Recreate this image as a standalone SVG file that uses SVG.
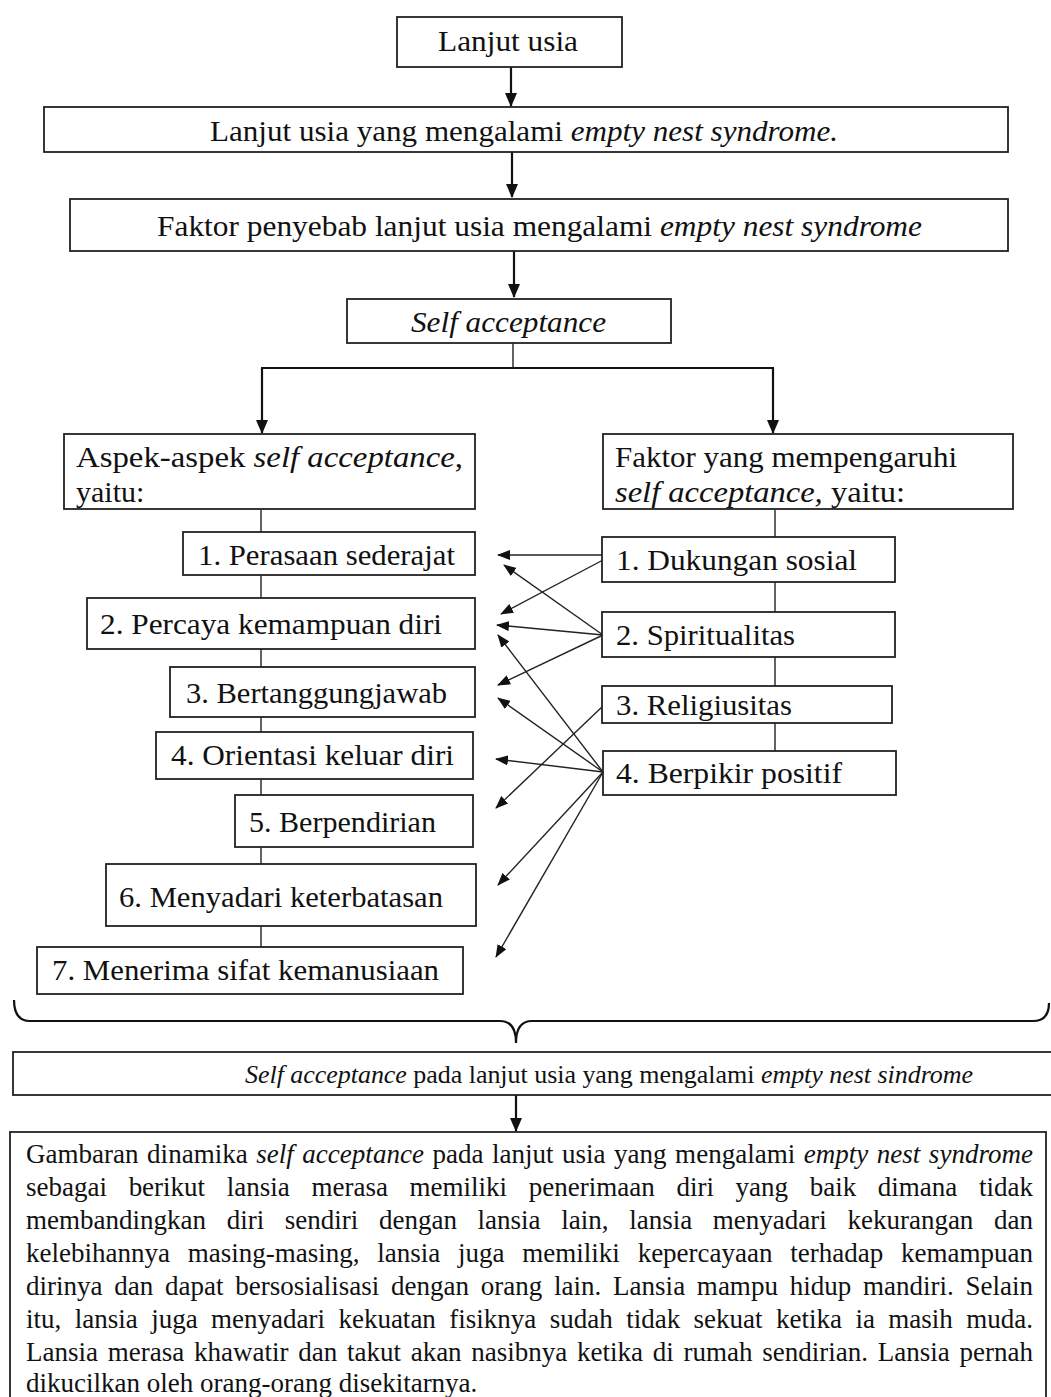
<svg xmlns="http://www.w3.org/2000/svg" width="1051" height="1397" viewBox="0 0 1051 1397">
<style>
  .box { fill: #fff; stroke: #222; stroke-width: 1.8; }
  .t { font-family: "Liberation Serif", "Times New Roman", serif; fill: #111; }
  .h { font-size: 30px; }
  .p { font-size: 27px; }
  .i { font-style: italic; }
  .main { stroke: #111; stroke-width: 2.2; fill: none; }
  .thin { stroke: #222; stroke-width: 1.4; fill: none; }
  .link { stroke: #222; stroke-width: 1.4; fill: none; }
</style>
<defs>
  <marker id="ah" markerUnits="userSpaceOnUse" markerWidth="14" markerHeight="12" refX="13" refY="6" orient="auto">
    <path d="M0,0 L14,6 L0,12 Z" fill="#111"/>
  </marker>
  <marker id="as" markerUnits="userSpaceOnUse" markerWidth="13" markerHeight="10" refX="12" refY="5" orient="auto">
    <path d="M0,0 L13,5 L0,10 Z" fill="#111"/>
  </marker>
</defs>

<g id="connectors">
  <line class="main" x1="511" y1="67" x2="511" y2="106" marker-end="url(#ah)"/>
  <line class="main" x1="512" y1="152" x2="512" y2="197" marker-end="url(#ah)"/>
  <line class="main" x1="514" y1="251" x2="514" y2="297" marker-end="url(#ah)"/>
  <line class="thin" x1="513" y1="343" x2="513" y2="368"/>
  <line class="main" x1="261" y1="368" x2="774" y2="368" stroke-width="2.8"/>
  <line class="main" x1="262" y1="368" x2="262" y2="433" marker-end="url(#ah)"/>
  <line class="main" x1="773" y1="368" x2="773" y2="433" marker-end="url(#ah)"/>
  <line class="thin" x1="261" y1="510" x2="261" y2="947" stroke-width="2"/>
  <line class="thin" x1="775" y1="510" x2="775" y2="751" stroke-width="2"/>
  <line class="link" x1="603" y1="555" x2="498" y2="555" marker-end="url(#as)"/>
  <line class="link" x1="603" y1="560" x2="501" y2="614" marker-end="url(#as)"/>
  <line class="link" x1="603" y1="635" x2="504" y2="565" marker-end="url(#as)"/>
  <line class="link" x1="603" y1="635" x2="497" y2="625" marker-end="url(#as)"/>
  <line class="link" x1="603" y1="635" x2="498" y2="685" marker-end="url(#as)"/>
  <line class="link" x1="603" y1="706" x2="496" y2="808" marker-end="url(#as)"/>
  <line class="link" x1="603" y1="772" x2="498" y2="635" marker-end="url(#as)"/>
  <line class="link" x1="603" y1="772" x2="498" y2="698" marker-end="url(#as)"/>
  <line class="link" x1="603" y1="772" x2="496" y2="759" marker-end="url(#as)"/>
  <line class="link" x1="603" y1="772" x2="498" y2="885" marker-end="url(#as)"/>
  <line class="link" x1="603" y1="772" x2="496" y2="957" marker-end="url(#as)"/>
  <path class="main" stroke-width="2.6" d="M14,1000 Q14,1021 30,1021 L500,1021 Q516,1021 516,1043 Q516,1021 532,1021 L1033,1021 Q1049,1021 1049,1003"/>
  <line class="main" x1="516" y1="1095" x2="516" y2="1131" marker-end="url(#ah)"/>
</g>

<g id="n-lanjut">
  <rect class="box" x="397" y="17" width="225" height="50"/>
  <text class="t h" x="438" y="51" textLength="140" lengthAdjust="spacingAndGlyphs">Lanjut usia</text>
</g>
<g id="n-empty">
  <rect class="box" x="44" y="107" width="964" height="45"/>
  <text class="t h" x="210" y="141" textLength="628" lengthAdjust="spacingAndGlyphs">Lanjut usia yang mengalami <tspan class="i">empty nest syndrome.</tspan></text>
</g>
<g id="n-faktor-penyebab">
  <rect class="box" x="70" y="199" width="938" height="52"/>
  <text class="t h" x="157" y="236" textLength="765" lengthAdjust="spacingAndGlyphs">Faktor penyebab  lanjut usia mengalami  <tspan class="i">empty nest syndrome</tspan></text>
</g>
<g id="n-self">
  <rect class="box" x="347" y="299" width="324" height="44"/>
  <text class="t h i" x="411" y="332" textLength="195" lengthAdjust="spacingAndGlyphs">Self acceptance</text>
</g>
<g id="n-aspek">
  <rect class="box" x="64" y="434" width="411" height="75"/>
  <text class="t h" x="76" y="467" textLength="387" lengthAdjust="spacingAndGlyphs">Aspek-aspek <tspan class="i">self acceptance</tspan>,</text>
  <text class="t h" x="76" y="502">yaitu:</text>
</g>
<g id="n-faktor">
  <rect class="box" x="603" y="434" width="410" height="75"/>
  <text class="t h" x="615" y="467" textLength="342" lengthAdjust="spacingAndGlyphs">Faktor yang mempengaruhi</text>
  <text class="t h" x="615" y="502" textLength="290" lengthAdjust="spacingAndGlyphs"><tspan class="i">self acceptance,</tspan> yaitu:</text>
</g>
<g id="a1">
  <rect class="box" x="183" y="532" width="292" height="43"/>
  <text class="t h" x="198" y="565" textLength="257" lengthAdjust="spacingAndGlyphs">1. Perasaan sederajat</text>
</g>
<g id="a2">
  <rect class="box" x="87" y="598" width="388" height="51"/>
  <text class="t h" x="100" y="634" textLength="342" lengthAdjust="spacingAndGlyphs">2. Percaya kemampuan diri</text>
</g>
<g id="a3">
  <rect class="box" x="170" y="667" width="305" height="50"/>
  <text class="t h" x="186" y="703" textLength="261" lengthAdjust="spacingAndGlyphs">3. Bertanggungjawab</text>
</g>
<g id="a4">
  <rect class="box" x="156" y="732" width="317" height="47"/>
  <text class="t h" x="171" y="765" textLength="283" lengthAdjust="spacingAndGlyphs">4. Orientasi keluar diri</text>
</g>
<g id="a5">
  <rect class="box" x="235" y="795" width="238" height="52"/>
  <text class="t h" x="249" y="832" textLength="187" lengthAdjust="spacingAndGlyphs">5. Berpendirian</text>
</g>
<g id="a6">
  <rect class="box" x="106" y="864" width="370" height="62"/>
  <text class="t h" x="119" y="907" textLength="324" lengthAdjust="spacingAndGlyphs">6. Menyadari  keterbatasan</text>
</g>
<g id="a7">
  <rect class="box" x="37" y="947" width="426" height="47"/>
  <text class="t h" x="52" y="980" textLength="387" lengthAdjust="spacingAndGlyphs">7. Menerima  sifat kemanusiaan</text>
</g>
<g id="f1">
  <rect class="box" x="602" y="537" width="293" height="45"/>
  <text class="t h" x="616" y="570" textLength="241" lengthAdjust="spacingAndGlyphs">1. Dukungan sosial</text>
</g>
<g id="f2">
  <rect class="box" x="602" y="612" width="293" height="45"/>
  <text class="t h" x="616" y="645" textLength="179" lengthAdjust="spacingAndGlyphs">2. Spiritualitas</text>
</g>
<g id="f3">
  <rect class="box" x="602" y="686" width="290" height="37"/>
  <text class="t h" x="616" y="715" textLength="176" lengthAdjust="spacingAndGlyphs">3. Religiusitas</text>
</g>
<g id="f4">
  <rect class="box" x="603" y="751" width="293" height="44"/>
  <text class="t h" x="616" y="783" textLength="226" lengthAdjust="spacingAndGlyphs">4. Berpikir positif</text>
</g>
<g id="n-result">
  <rect class="box" x="13" y="1052" width="1050" height="43"/>
  <text class="t" font-size="26" x="245" y="1083" textLength="728" lengthAdjust="spacing"><tspan class="i">Self acceptance</tspan> pada lanjut usia yang mengalami <tspan class="i">empty nest sindrome</tspan></text>
</g>
<g id="n-gambaran">
  <rect class="box" x="10" y="1132" width="1036" height="300"/>
  <text class="t p" x="26" y="1163" word-spacing="1.7" textLength="1007" lengthAdjust="spacing">Gambaran dinamika <tspan class="i">self acceptance</tspan> pada lanjut usia yang mengalami <tspan class="i">empty nest syndrome</tspan></text>
  <text class="t p" x="26" y="1196" word-spacing="14.9" textLength="1007" lengthAdjust="spacing">sebagai berikut lansia merasa memiliki penerimaan diri yang baik dimana tidak</text>
  <text class="t p" x="26" y="1229" word-spacing="13.9" textLength="1007" lengthAdjust="spacing">membandingkan diri sendiri dengan lansia lain, lansia menyadari kekurangan dan</text>
  <text class="t p" x="26" y="1262" word-spacing="11" textLength="1007" lengthAdjust="spacing">kelebihannya masing-masing, lansia juga memiliki kepercayaan terhadap kemampuan</text>
  <text class="t p" x="26" y="1295" word-spacing="5" textLength="1007" lengthAdjust="spacing">dirinya dan dapat bersosialisasi dengan orang lain. Lansia mampu hidup mandiri. Selain</text>
  <text class="t p" x="26" y="1328" word-spacing="6.7" textLength="1007" lengthAdjust="spacing">itu, lansia juga menyadari kekuatan fisiknya sudah tidak sekuat ketika ia masih muda.</text>
  <text class="t p" x="26" y="1361" word-spacing="3" textLength="1007" lengthAdjust="spacing">Lansia merasa khawatir dan takut akan nasibnya ketika di rumah sendirian. Lansia pernah</text>
  <text class="t p" x="26" y="1392">dikucilkan oleh orang-orang disekitarnya.</text>
</g>
</svg>
